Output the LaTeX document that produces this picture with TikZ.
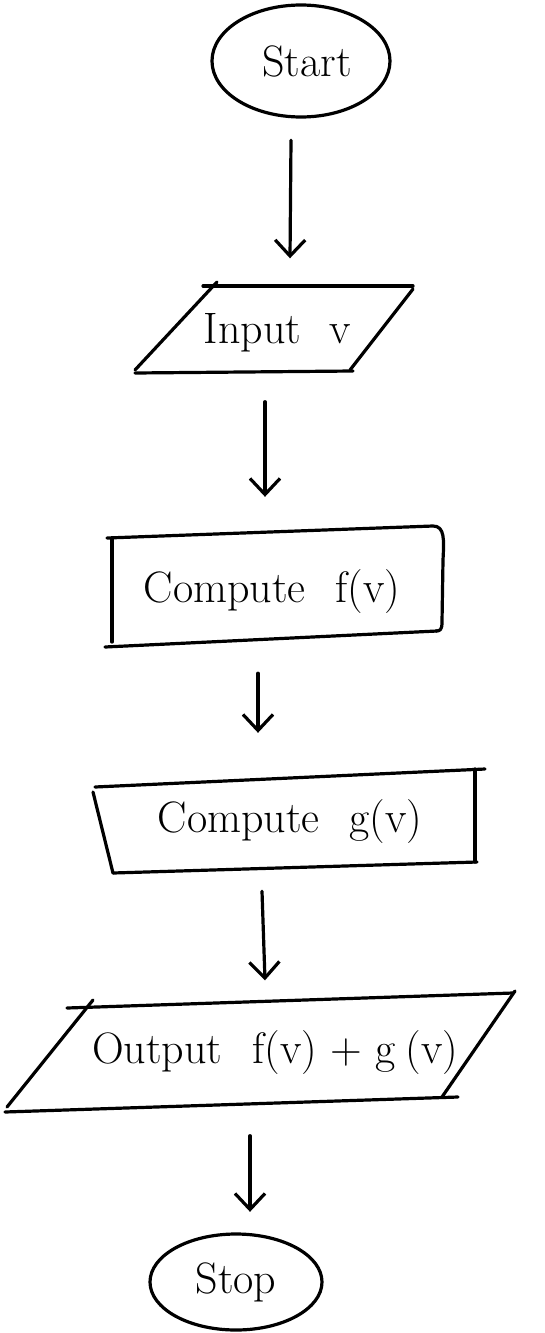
\documentclass[tikz,border=0pt]{standalone}
\usepackage{fontspec}
\usetikzlibrary{arrows.meta,calc,shapes.geometric}
\begin{document}
\begin{tikzpicture}[x=1pt,y=-1pt,
  ink/.style={line width=3.2pt,line cap=round,line join=round},
  lbl/.style={font=\fontsize{44}{50}\selectfont,inner sep=0pt},
  flow/.style={ink,-{Straight Barb[length=16pt,width=30pt,line width=3.2pt]}},
]
\useasboundingbox (0,0) rectangle (545,1333);

% terminals
\draw[ink] (301,61) ellipse [x radius=89,y radius=56];
\node[lbl,minimum width=178,minimum height=112] (start) at (307,61) {Start};
\draw[ink] (236,1282) ellipse [x radius=86,y radius=48];
\node[lbl,minimum width=172,minimum height=96] (stop) at (236,1282) {Stop};

% input parallelogram
\draw[ink] (203,286) -- (413,286);
\draw[ink] (217,282) -- (135,370);
\draw[ink] (135,373) -- (353,371);
\draw[ink] (413,289) -- (350,370);
\node[lbl,minimum width=278,minimum height=87] (inp) at (277,333) {Input\hspace{28pt}v};

% compute f(v)
\draw[ink] (107,538) -- (433,526) .. controls (445,526) and (444,540) .. (443,560)
  -- (442,622) .. controls (442,630) and (440,631) .. (436,631);
\draw[ink] (112,538) -- (112,642);
\draw[ink] (105,647) -- (437,631);
\node[lbl,minimum width=336,minimum height=120] (cf) at (272,592) {Compute\hspace{30pt}f(v)};

% compute g(v)
\draw[ink] (95,787) -- (485,769);
\draw[ink] (93,792) -- (113,873);
\draw[ink] (113,873) -- (477,862);
\draw[ink] (475,769) -- (475,862);
\node[lbl,minimum width=392,minimum height=104] (cg) at (290,822) {Compute\hspace{30pt}g(v)};

% output parallelogram
\draw[ink] (67,1008) -- (513,993);
\draw[ink] (93,1000) -- (7,1107);
\draw[ink] (5,1112) -- (458,1097);
\draw[ink] (515,991) -- (442,1097);
\node[lbl,minimum width=510,minimum height=119] (out) at (275,1053) {Output\hspace{30pt}f(v) + g\hspace{10pt}(v)};

% connectors
\draw[flow] ($(start.south)+(-16,23)$) -- ($(inp.north)+(13,-31)$);
\draw[flow] ($(inp.south)+(-12,25)$) -- ($(cf.north)+(-7,-35)$);
\draw[flow] ($(cf.south)+(-14,21)$) -- ($(cg.north)+(-32,-37)$);
\draw[flow] ($(cg.south)+(-28,17)$) -- ($(out.north)+(-10,-13)$);
\draw[flow] ($(out.south)+(-25,23)$) -- ($(stop.north)+(14,-22)$);
\end{tikzpicture}
\end{document}
